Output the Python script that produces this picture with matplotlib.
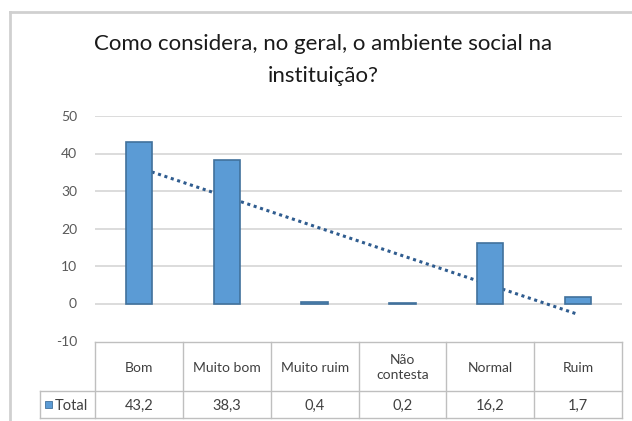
import numpy as np
import matplotlib
matplotlib.use("Agg")
import matplotlib.pyplot as plt
from matplotlib.lines import Line2D
from matplotlib.patches import Rectangle

categories = ["Bom", "Muito bom", "Muito ruim", "Não\ncontesta", "Normal", "Ruim"]
values = [43.2, 38.3, 0.4, 0.2, 16.2, 1.7]
value_labels = ["43,2", "38,3", "0,4", "0,2", "16,2", "1,7"]
series_name = "Total"
title = "Como considera, no geral, o ambiente social na\ninstituição?"
yticks = [-10, 0, 10, 20, 30, 40, 50]

W, H = 632, 421
plt.rcParams['font.family'] = ['Lato', 'DejaVu Sans']
fig = plt.figure(figsize=(W / 100, H / 100), dpi=100)

def fx(px):
    return px / W

def fy(py):
    return 1 - py / H

# chart frame
fig.add_artist(Line2D([fx(10), fx(10)], [fy(12), 0], transform=fig.transFigure,
                      color="#D0D0D0", lw=2.0))
fig.add_artist(Line2D([fx(10), 1], [fy(12), fy(12)], transform=fig.transFigure,
                      color="#D0D0D0", lw=2.0))

pl, pr, pt, pb = 95, 622, 116, 341
ax = fig.add_axes([fx(pl), fy(pb), fx(pr - pl), fy(pt) - fy(pb)])
n = len(categories)
x = np.arange(n)
ax.set_xlim(-0.5, n - 0.5)
ax.set_ylim(-10, 50)
ax.set_yticks(yticks)
ax.set_yticklabels([str(t) for t in yticks])
ax.tick_params(axis='y', length=0, labelsize=10, labelcolor="#595959", pad=13)
ax.tick_params(axis='x', length=0, labelbottom=False)
for s in ax.spines.values():
    s.set_visible(False)
for t in yticks[1:]:
    ax.axhline(t, color="#D9D9D9", lw=1.3, zorder=0)

coef = np.polyfit(x + 1, values, 1)
trend = np.polyval(coef, x + 1)
ax.plot(x, trend, linestyle=(0, (1, 1.2)), color="#2F5C8F", lw=2.2, zorder=1)
ax.bar(x, values, width=0.3, color="#5B9BD5", edgecolor="#41719C", lw=1.2, zorder=2)

fig.text(fx(323), fy(60), title, ha='center', va='center', fontsize=16,
         color="#1A1A1A", linespacing=1.7)

# data table
tt, tm, tb = 342, 391, 418
lab_l = 40
cw = (pr - pl) / n
grid_c = "#BFBFBF"
def hline(y, x0, x1):
    fig.add_artist(Line2D([fx(x0), fx(x1)], [fy(y), fy(y)], transform=fig.transFigure,
                          color=grid_c, lw=1.0))
def vline(xp, y0, y1):
    fig.add_artist(Line2D([fx(xp), fx(xp)], [fy(y0), fy(y1)], transform=fig.transFigure,
                          color=grid_c, lw=1.0))
hline(tt, pl, pr)
hline(tm, lab_l, pr)
hline(tb, lab_l, pr)
vline(lab_l, tm, tb)
for i in range(n + 1):
    vline(pl + i * cw, tt, tb)
for i in range(n):
    cx = pl + (i + 0.5) * cw
    fig.text(fx(cx), fy((tt + tm) / 2 + 1), categories[i], ha='center', va='center',
             fontsize=10, color="#404040", linespacing=1.25)
    fig.text(fx(cx), fy((tm + tb) / 2 + 1), value_labels[i], ha='center', va='center',
             fontsize=10.5, color="#404040")
fig.add_artist(Rectangle((fx(45), fy(408)), fx(7), fy(401) - fy(408), transform=fig.transFigure,
                         facecolor="#5B9BD5", edgecolor="#41719C", lw=0.6))
fig.text(fx(55), fy((tm + tb) / 2 + 1), series_name, ha='left', va='center',
         fontsize=10.5, color="#404040")

fig.savefig("out.png", dpi=100, facecolor="white")
